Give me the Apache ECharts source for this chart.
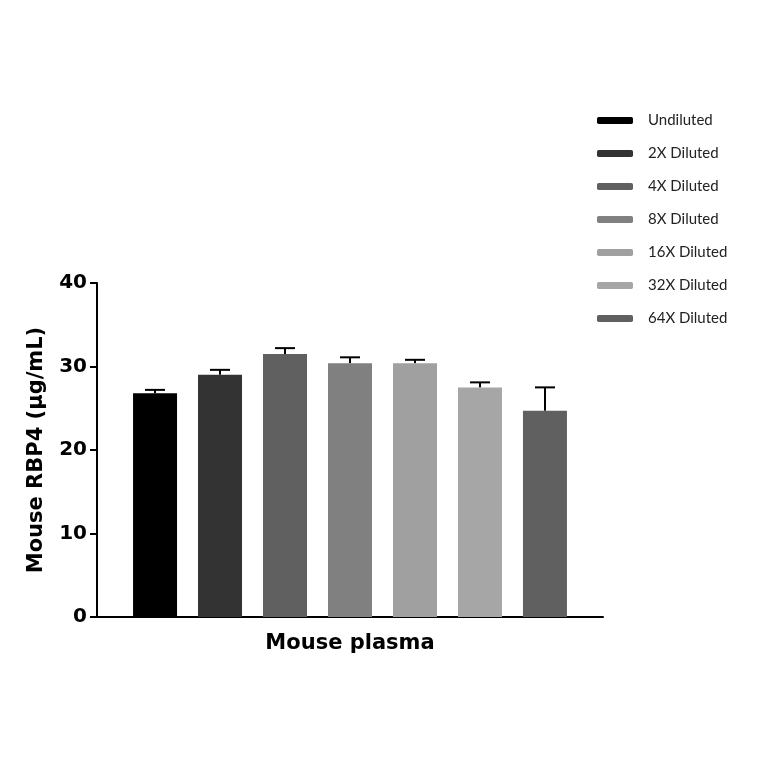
<!DOCTYPE html>
<html><head><meta charset="utf-8">
<script src="https://cdn.jsdelivr.net/npm/echarts@6/dist/echarts.min.js"></script>
<style>html,body{margin:0;padding:0;background:#fff}#c{width:764px;height:764px}</style>
</head><body><div id="c"></div>
<script>
var names = ['Undiluted', '2X Diluted', '4X Diluted', '8X Diluted', '16X Diluted', '32X Diluted', '64X Diluted'];
var means = [26.8, 29.0, 31.5, 30.4, 30.4, 27.5, 24.7];
var errTop = [27.2, 29.6, 32.2, 31.1, 30.8, 28.1, 27.5];
var colors = ['#000000', '#333333', '#606060', '#808080', '#a0a0a0', '#a6a6a6', '#606060'];
var yTicks = [0, 10, 20, 30, 40];

var chart = echarts.init(document.getElementById('c'));
var series = [];
for (var i = 0; i < names.length; i++) {
  series.push({
    name: names[i], type: 'bar', barWidth: 44, barGap: '47.7%',
    itemStyle: {color: colors[i]}, data: [means[i]]
  });
}
var errData = [];
for (var k = 0; k < names.length; k++) errData.push([k, means[k], errTop[k]]);
series.push({
  type: 'custom', silent: true, z: 1,
  renderItem: function (params, api) {
    var idx = api.value(0);
    var base = api.coord([0, api.value(1)]);
    var top = api.coord([0, api.value(2)]);
    var x = base[0] + (idx - 3) * 65;
    var st = {stroke: '#000', lineWidth: 2};
    return {type: 'group', children: [
      {type: 'line', shape: {x1: x, y1: base[1], x2: x, y2: top[1]}, style: st},
      {type: 'line', shape: {x1: x - 10, y1: top[1], x2: x + 10, y2: top[1]}, style: st}
    ]};
  },
  encode: {x: -1, y: [1, 2]},
  data: errData
});

chart.setOption({
  animation: false,
  grid: {left: 97, right: 161, top: 283, bottom: 147},
  legend: {
    orient: 'vertical', left: 592, top: 108, itemWidth: 36, itemHeight: 7, itemGap: 18,
    data: names,
    textStyle: {fontFamily: 'Lato', fontSize: 15, color: '#222', padding: [0, 0, 0, 10]}
  },
  xAxis: {
    type: 'category', data: ['Mouse plasma'],
    axisLine: {lineStyle: {color: '#000', width: 2}},
    axisTick: {show: false},
    axisLabel: {fontFamily: 'DejaVu Sans', fontWeight: 'bold', fontSize: 21, color: '#000', margin: 16}
  },
  yAxis: {
    type: 'value', min: yTicks[0], max: yTicks[yTicks.length - 1], interval: 10,
    name: 'Mouse RBP4 (μg/mL)', nameLocation: 'middle', nameGap: 50,
    nameTextStyle: {fontFamily: 'DejaVu Sans', fontWeight: 'bold', fontSize: 21, color: '#000'},
    splitLine: {show: false},
    axisLine: {show: true, lineStyle: {color: '#000', width: 2}},
    axisTick: {show: true, length: 7, lineStyle: {color: '#000', width: 2}},
    axisLabel: {fontFamily: 'DejaVu Sans', fontWeight: 'bold', fontSize: 20, color: '#000', margin: 10}
  },
  series: series
});
</script></body></html>
